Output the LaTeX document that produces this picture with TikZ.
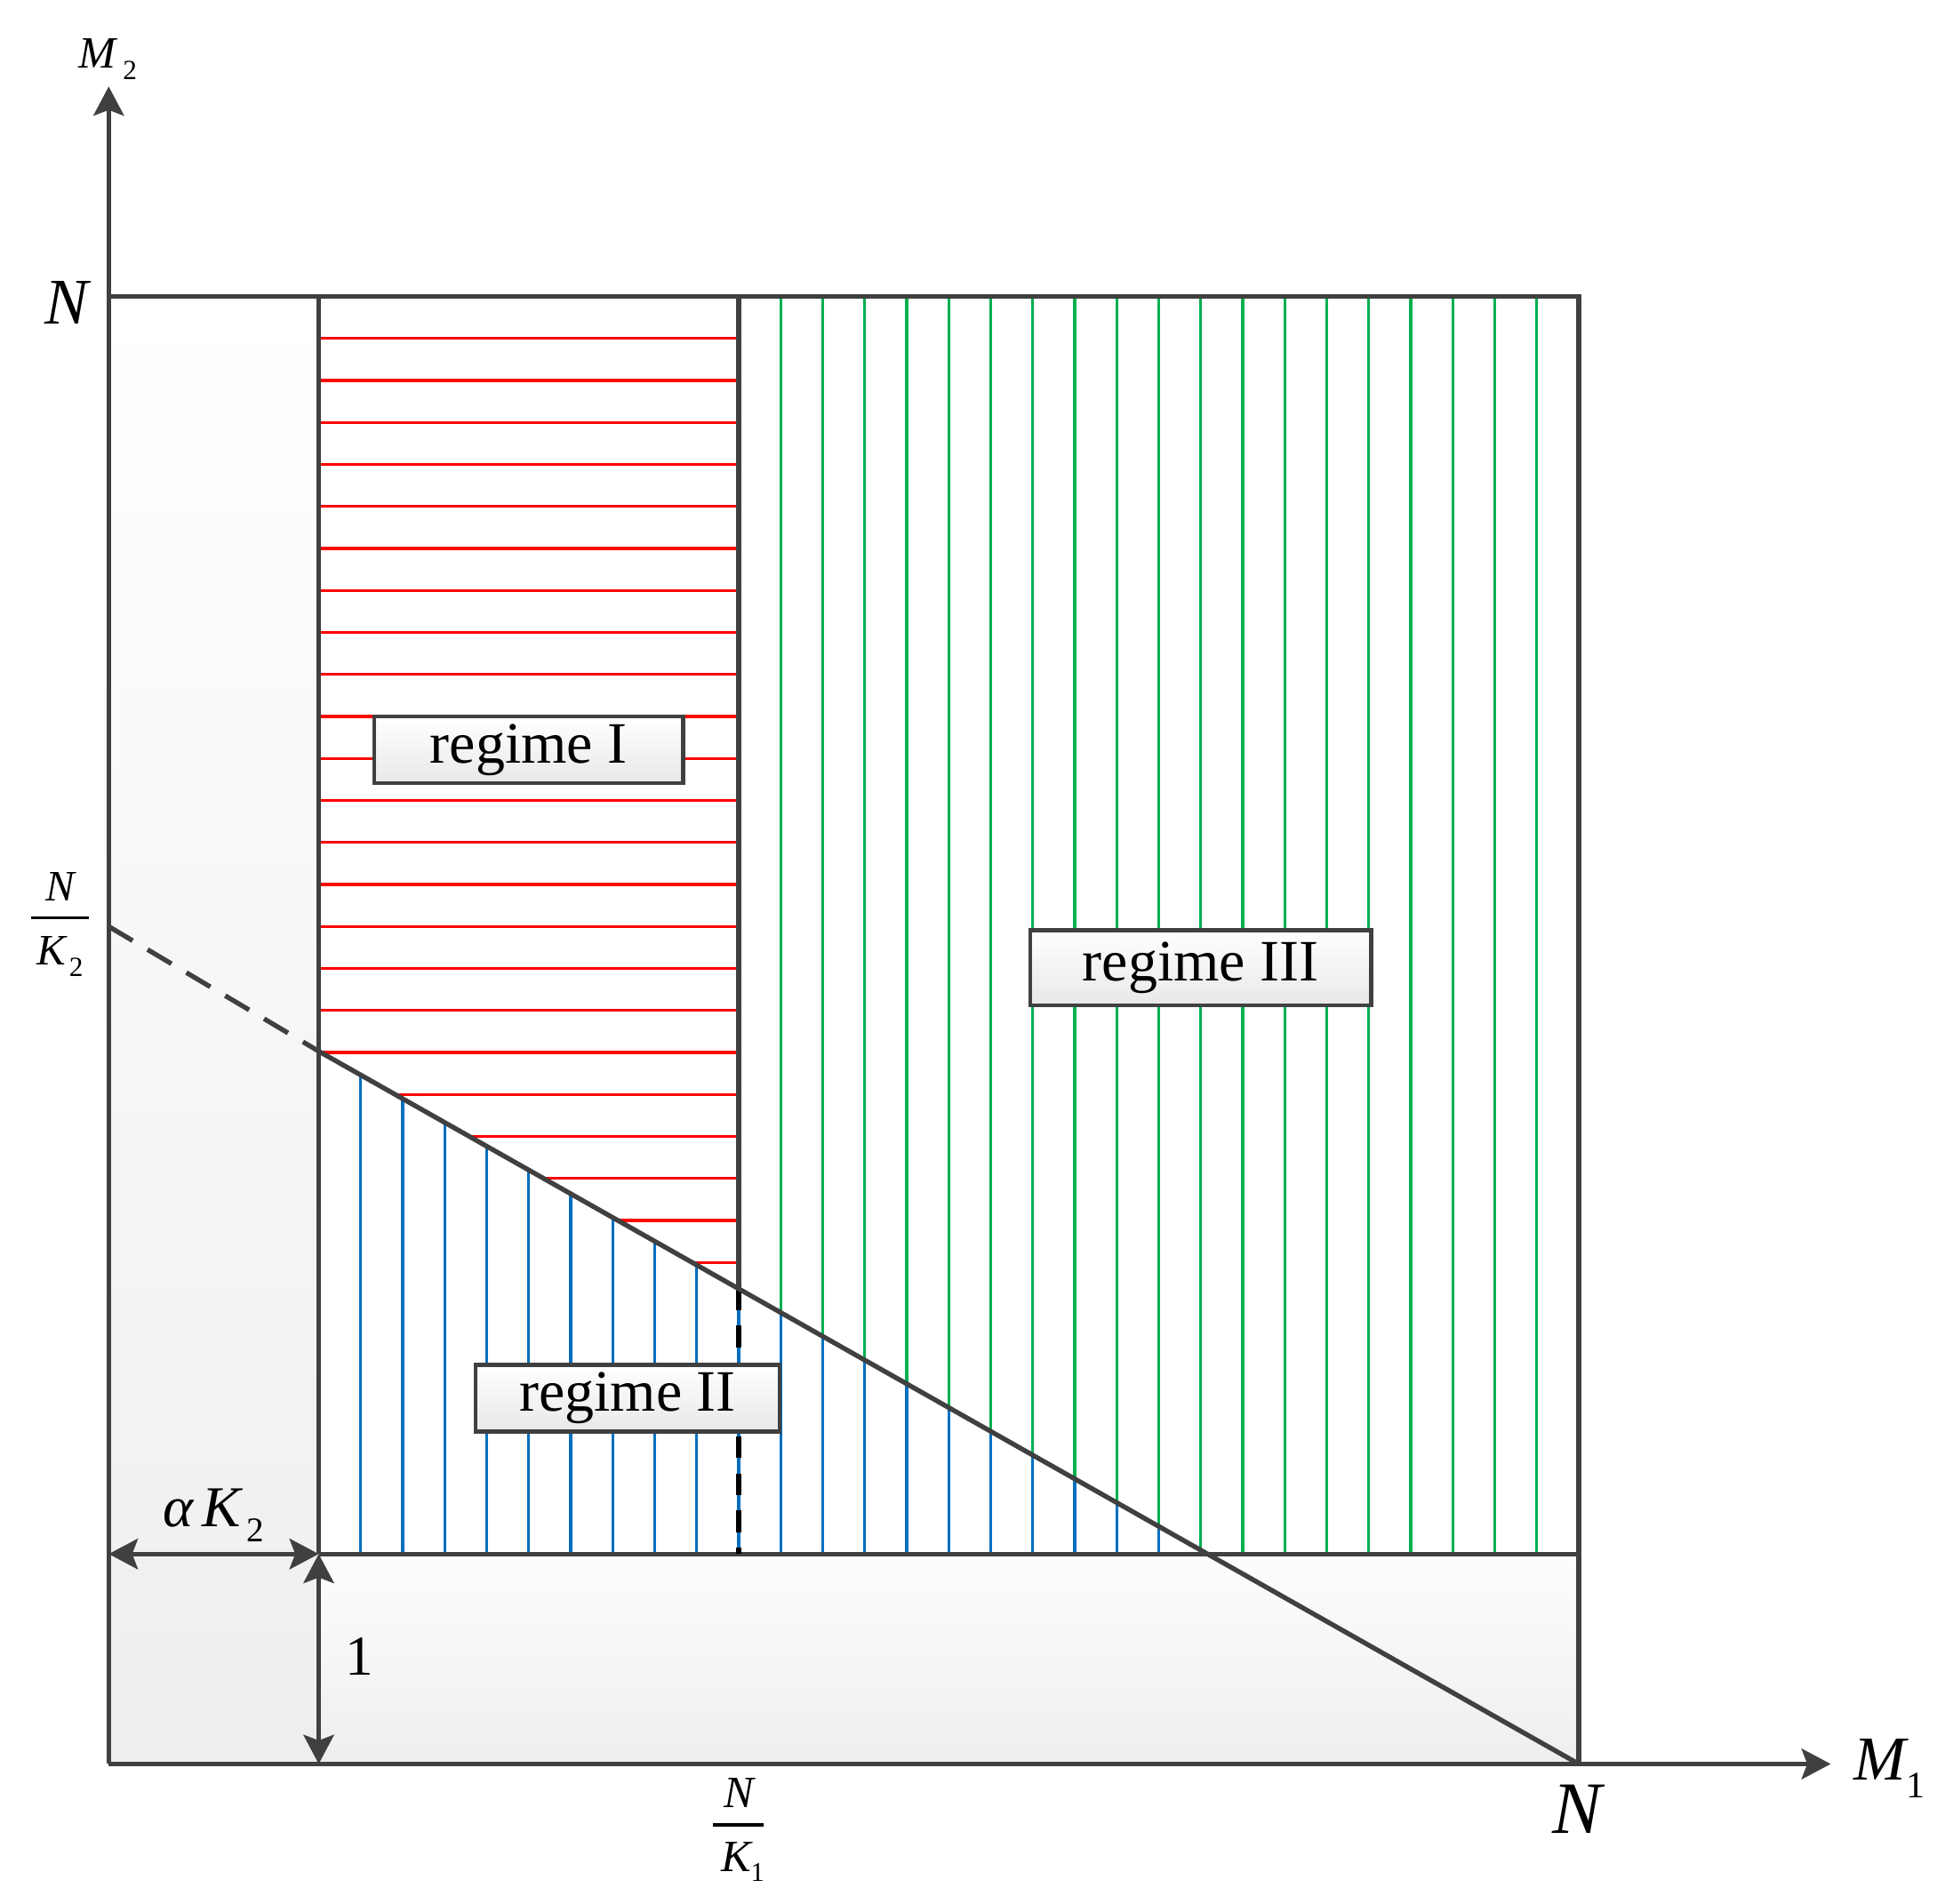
\documentclass[tikz,border=0pt]{standalone}
\usepackage{fontspec}
\setmainfont{Liberation Serif}
\usetikzlibrary{arrows.meta}
\definecolor{lc}{HTML}{404040}
\definecolor{rc}{HTML}{FF0000}
\definecolor{gc}{HTML}{00B050}
\definecolor{bc}{HTML}{0070C0}
\definecolor{shadebot}{RGB}{238,238,238}
\definecolor{shadetop}{RGB}{253,253,253}
\definecolor{boxbot}{RGB}{232,232,232}
\begin{document}
\begin{tikzpicture}[x=0.01cm,y=-0.01cm,
  frame/.style={draw=lc,line width=1.1pt,line join=miter},
  redhatch/.style={draw=rc,line width=0.7pt},
  greenhatch/.style={draw=gc,line width=0.7pt},
  bluehatch/.style={draw=bc,line width=0.7pt},
  oneway/.style={-{Stealth[length=6.7pt,width=7pt,inset=1.3pt]}},
  twoway/.style={{Stealth[length=6.7pt,width=7pt,inset=1.3pt]}-{Stealth[length=6.7pt,width=7pt,inset=1.3pt]}},
  regimebox/.style={draw=lc,line width=0.9pt,top color=white,bottom color=boxbot,
    inner sep=0pt,font=\fontsize{13.5}{15}\selectfont},
  lab/.style={inner sep=0pt,text=black}
]
\useasboundingbox (0,0) rectangle (1568,1541);

% key points
\coordinate (O) at (88,1428);
\coordinate (Ytip) at (88,70);
\coordinate (Xtip) at (1482,1428);
\coordinate (TL) at (88,240);
\coordinate (TR) at (1278,240);
\coordinate (BR) at (1278,1428);
\coordinate (A0) at (258,240);
\coordinate (A1) at (258,1258);
\coordinate (A2) at (258,1428);
\coordinate (L1) at (88,1258);
\coordinate (R1) at (1278,1258);
\coordinate (K0) at (598,240);
\coordinate (Kd) at (598,1043.3);
\coordinate (Kb) at (598,1258);
\coordinate (D0) at (88,750);
\coordinate (Da) at (258,851);
\coordinate (Db) at (977.5,1258);

% grey strips
\shade[top color=white,bottom color=shadebot] (88,240) rectangle (258,1428);
\shade[top color=shadetop,bottom color=shadebot] (258,1258) rectangle (1278,1428);

% red hatching (regime I)
\begin{scope}
  \clip (A0) -- (K0) -- (Kd) -- (Da) -- cycle;
  \foreach \k in {1,...,23}
    \draw[redhatch] (258,{240+34*\k}) -- (598,{240+34*\k});
\end{scope}
% blue hatching (regime II)
\begin{scope}
  \clip (Da) -- (Db) -- (A1) -- cycle;
  \foreach \k in {1,...,21}
    \draw[bluehatch] ({258+34*\k},700) -- ({258+34*\k},1258);
\end{scope}
% green hatching (regime III)
\begin{scope}
  \clip (K0) -- (TR) -- (R1) -- (Db) -- (Kd) -- cycle;
  \foreach \k in {1,...,19}
    \draw[greenhatch] ({598+34*\k},240) -- ({598+34*\k},1258);
\end{scope}

% frame
\draw[frame] (TL) -- (TR) -- (BR);
\draw[frame] (A0) -- (A1);
\draw[frame] (A1) -- (R1);
\draw[frame] (K0) -- (Kd);
\draw[black,line width=1.1pt,dash pattern=on 5pt off 3.5pt] (Kd) -- (Kb);
\draw[frame,dash pattern=on 6.4pt off 4pt] (D0) -- (Da);
\draw[frame] (Da) -- (BR);

% axes
\draw[frame,oneway] (O) -- (Ytip);
\draw[frame,oneway] (O) -- (Xtip);
% dimension arrows
\draw[frame,twoway] (L1) -- (A1);
\draw[frame,twoway] (A2) -- (A1);

% regime labels
\node[regimebox,minimum width=2.5cm,minimum height=0.54cm] (r1) at (428,607) {regime I};
\node[regimebox,minimum width=2.46cm,minimum height=0.54cm] (r2) at (508,1132) {regime II};
\node[regimebox,minimum width=2.76cm,minimum height=0.61cm] (r3) at (972,783.5) {regime III};

% axis labels
\node[lab,anchor=base west] (m2) at (63,55)
  {\fontsize{10.3}{12}\selectfont\itshape M\hspace{1.6pt}\raisebox{-2.6pt}{\upshape\fontsize{6.4}{7}\selectfont 2}};
\node[lab,anchor=base west] (m1) at (1500,1441)
  {\fontsize{14.4}{16}\selectfont\itshape M\upshape\raisebox{-4pt}{\fontsize{8.6}{9}\selectfont 1}};
\node[lab,anchor=base] (ntop) at (54,262) {\fontsize{15}{17}\selectfont\itshape N};
\node[lab,anchor=base] (nbot) at (1277,1484) {\fontsize{17}{19}\selectfont\itshape N};

% N/K2
\node[lab,anchor=base] (nk2n) at (49,729) {\fontsize{10}{11}\selectfont\itshape N};
\draw[black,line width=0.8pt] (25,743) -- (72,743);
\node[lab,anchor=base west] (nk2d) at (29,781)
  {\fontsize{10}{11}\selectfont\itshape K\upshape\hspace{0.8pt}\raisebox{-2.6pt}{\fontsize{6.4}{7}\selectfont 2}};

% N/K1
\node[lab,anchor=base] (nk1n) at (598,1463) {\fontsize{10.3}{11}\selectfont\itshape N};
\draw[black,line width=0.8pt] (577,1477) -- (618,1477);
\node[lab,anchor=base west] (nk1d) at (583,1515)
  {\fontsize{10.3}{11}\selectfont\itshape K\upshape\raisebox{-2.3pt}{\fontsize{6.2}{7}\selectfont 1}};

% alpha K2 and 1
\node[lab,anchor=base west] (ak2) at (131,1236)
  {\fontsize{13.3}{15}\selectfont\itshape α\hspace{2.2pt}K\upshape\hspace{1.2pt}\raisebox{-3.4pt}{\fontsize{8}{9}\selectfont 2}};
\node[lab,anchor=base west] (one) at (279,1356) {\fontsize{13}{15}\selectfont 1};
\end{tikzpicture}
\end{document}
